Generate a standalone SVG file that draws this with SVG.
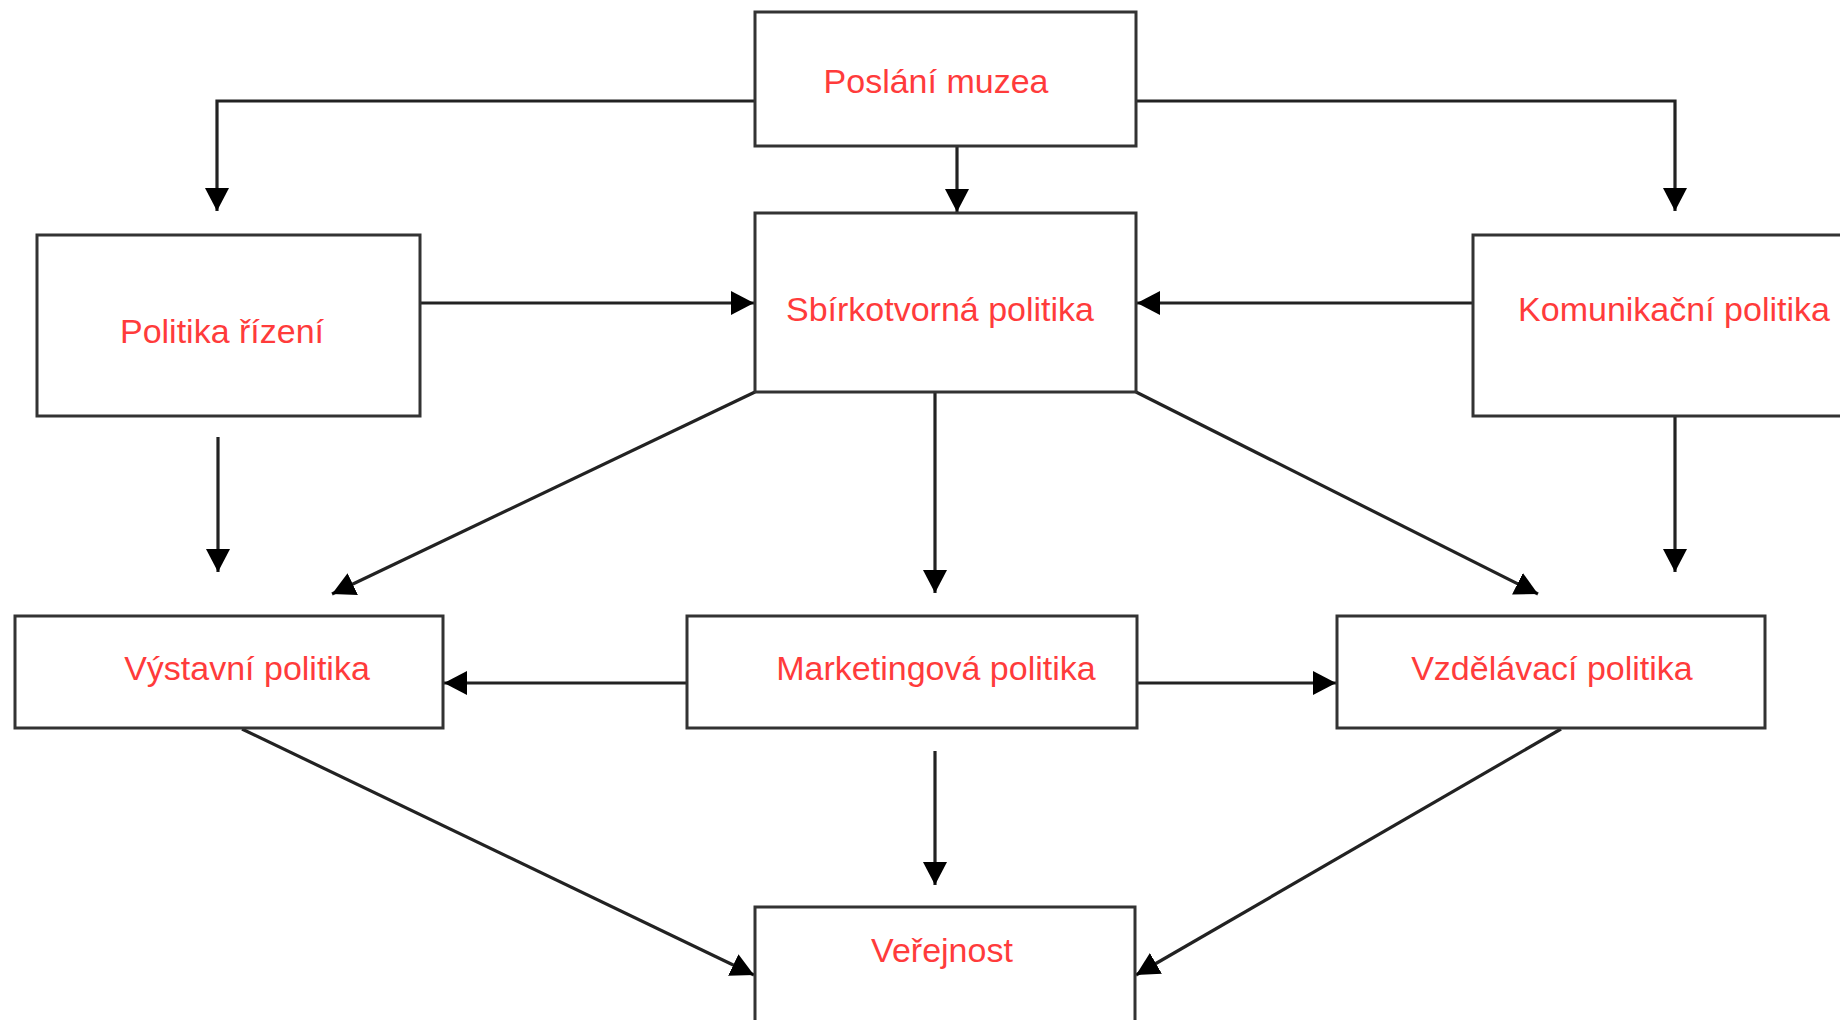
<svg xmlns="http://www.w3.org/2000/svg" width="1840" height="1020" viewBox="0 0 1840 1020">
<style>
.box{fill:#fff;stroke:#333;stroke-width:3}
.lbl{font-family:"Liberation Sans",Arial,sans-serif;font-size:34px;fill:#ff3b3b;text-anchor:middle}
.ln{fill:none;stroke:#222;stroke-width:3.2}
</style>
<defs>
<marker id="ah" markerUnits="userSpaceOnUse" markerWidth="24" markerHeight="24" refX="23" refY="12" orient="auto">
<path d="M0,0 L23,12 L0,24 z" fill="#000"/>
</marker>
</defs>
<rect width="1840" height="1020" fill="#fff"/>
<g id="connectors">
<path class="ln" d="M755,101 H217 V211" marker-end="url(#ah)"/>
<path class="ln" d="M1136,101 H1675 V211" marker-end="url(#ah)"/>
<path class="ln" d="M957,146 V212" marker-end="url(#ah)"/>
<path class="ln" d="M420,303 H754" marker-end="url(#ah)"/>
<path class="ln" d="M1473,303 H1137" marker-end="url(#ah)"/>
<path class="ln" d="M218,437 V572" marker-end="url(#ah)"/>
<path class="ln" d="M1675,416 V572" marker-end="url(#ah)"/>
<path class="ln" d="M755,392 L332,594" marker-end="url(#ah)"/>
<path class="ln" d="M935,392 V593" marker-end="url(#ah)"/>
<path class="ln" d="M1136,392 L1538,594" marker-end="url(#ah)"/>
<path class="ln" d="M687,683 H444" marker-end="url(#ah)"/>
<path class="ln" d="M1137,683 H1336" marker-end="url(#ah)"/>
<path class="ln" d="M935,751 V885" marker-end="url(#ah)"/>
<path class="ln" d="M242,729 L754,975" marker-end="url(#ah)"/>
<path class="ln" d="M1561,729 L1136,975" marker-end="url(#ah)"/>
</g>
<g id="poslani">
<rect class="box" x="755" y="12" width="381" height="134"/>
<text class="lbl" x="936" y="93">Poslání muzea</text>
</g>
<g id="politika-rizeni">
<rect class="box" x="37" y="235" width="383" height="181"/>
<text class="lbl" x="222" y="343">Politika řízení</text>
</g>
<g id="sbirkotvorna">
<rect class="box" x="755" y="213" width="381" height="179"/>
<text class="lbl" x="940" y="321">Sbírkotvorná politika</text>
</g>
<g id="komunikacni">
<rect class="box" x="1473" y="235" width="380" height="181"/>
<text class="lbl" x="1674" y="321">Komunikační politika</text>
</g>
<g id="vystavni">
<rect class="box" x="15" y="616" width="428" height="112"/>
<text class="lbl" x="247" y="680">Výstavní politika</text>
</g>
<g id="marketingova">
<rect class="box" x="687" y="616" width="450" height="112"/>
<text class="lbl" x="936" y="680">Marketingová politika</text>
</g>
<g id="vzdelavaci">
<rect class="box" x="1337" y="616" width="428" height="112"/>
<text class="lbl" x="1552" y="680">Vzdělávací politika</text>
</g>
<g id="verejnost">
<rect class="box" x="755" y="907" width="380" height="130"/>
<text class="lbl" x="942" y="962">Veřejnost</text>
</g>
</svg>
